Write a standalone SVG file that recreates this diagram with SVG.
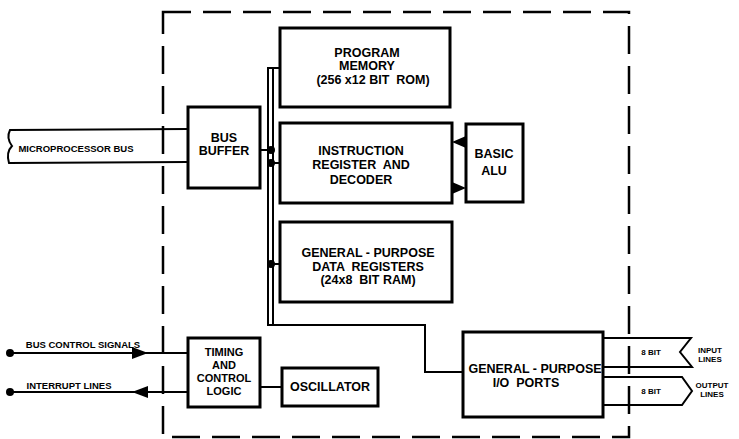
<svg xmlns="http://www.w3.org/2000/svg" width="739" height="439" viewBox="0 0 739 439">
<style>
.box{fill:#fff;stroke:#000;stroke-width:3}
.ln{fill:none;stroke:#000;stroke-width:2}
.dash{fill:none;stroke:#000;stroke-width:2.5;stroke-dasharray:28 12}
text{font-family:"Liberation Sans",Arial,sans-serif;font-weight:bold;fill:#000;text-anchor:middle;white-space:pre}
.t{font-size:12.5px}
.tt{font-size:11px}
.s{font-size:9.5px}
.xs{font-size:8px}
</style>
<rect width="739" height="439" fill="#fff"/>
<rect class="dash" x="163" y="12" width="466" height="425"/>
<g id="connectors">
<path class="ln" d="M280,68 H268 V325 H425 V372 H463"/>
<path class="ln" d="M273,68 V325"/>
<path class="ln" d="M260,150 H271"/>
<path class="ln" d="M271,163 H280"/>
<path class="ln" d="M271,264 H280"/>
<circle cx="271" cy="150" r="4"/>
<circle cx="271" cy="163" r="4"/>
<circle cx="271" cy="264" r="4"/>
<polygon points="452,142 466,136 466,148"/>
<polygon points="466,188 452,182 452,194"/>
<path class="ln" d="M10,353 H188"/>
<circle cx="10" cy="353" r="4"/>
<polygon points="148,353 132,347 132,359"/>
<path class="ln" d="M10,392 H188"/>
<circle cx="10" cy="392" r="4"/>
<polygon points="132,392 148,386 148,398"/>
<path class="ln" d="M260,387 H282"/>
</g>
<g id="microprocessor-bus">
<path class="ln" d="M188,129 L10,130 C7,136 9,142 12,146 C8,150 7,156 9,163 L188,162"/>
<text class="s" x="76" y="152">MICROPROCESSOR BUS</text>
</g>
<g id="bus-buffer">
<rect class="box" x="188" y="107" width="72" height="81"/>
<text class="t" x="224" y="142">BUS</text>
<text class="t" x="224" y="155">BUFFER</text>
</g>
<g id="program-memory">
<rect class="box" x="280" y="28" width="170" height="79"/>
<text class="t" x="367" y="57">PROGRAM</text>
<text class="t" x="367" y="70">MEMORY</text>
<text class="t" x="373" y="84">(256 x12 BIT  ROM)</text>
</g>
<g id="instruction-register">
<rect class="box" x="280" y="123" width="172" height="80"/>
<text class="t" x="361" y="155">INSTRUCTION</text>
<text class="t" x="361" y="169">REGISTER  AND</text>
<text class="t" x="361" y="184">DECODER</text>
</g>
<g id="alu">
<rect class="box" x="466" y="124" width="57" height="78"/>
<text class="t" x="494" y="158">BASIC</text>
<text class="t" x="494" y="175">ALU</text>
</g>
<g id="data-registers">
<rect class="box" x="280" y="222" width="172" height="80"/>
<text class="t" x="368" y="257">GENERAL - PURPOSE</text>
<text class="t" x="368" y="271">DATA  REGISTERS</text>
<text class="t" x="368" y="284">(24x8  BIT RAM)</text>
</g>
<g id="bus-control-label">
<text class="s" x="83" y="348">BUS CONTROL SIGNALS</text>
</g>
<g id="interrupt-label">
<text class="s" x="69" y="389">INTERRUPT LINES</text>
</g>
<g id="timing-control">
<rect class="box" x="188" y="338" width="72" height="69"/>
<text class="tt" x="224" y="356">TIMING</text>
<text class="tt" x="224" y="369">AND</text>
<text class="tt" x="224" y="382">CONTROL</text>
<text class="tt" x="224" y="395">LOGIC</text>
</g>
<g id="oscillator">
<rect class="box" x="282" y="368" width="96" height="38"/>
<text class="t" x="330" y="391">OSCILLATOR</text>
</g>
<g id="input-lines">
<path class="ln" d="M603,338 H691 L680,352 L692,367 H603"/>
<text class="xs" x="651" y="355">8 BIT</text>
<text class="xs" x="710" y="353">INPUT</text>
<text class="xs" x="710" y="362">LINES</text>
</g>
<g id="output-lines">
<path class="ln" d="M603,377 H682 L692,391 L682,405 H603"/>
<text class="xs" x="651" y="394">8 BIT</text>
<text class="xs" x="712" y="388">OUTPUT</text>
<text class="xs" x="712" y="397">LINES</text>
</g>
<g id="io-ports">
<rect class="box" x="463" y="332" width="140" height="85"/>
<text class="t" x="535" y="373">GENERAL - PURPOSE</text>
<text class="t" x="526" y="387">I/O  PORTS</text>
</g>
</svg>
